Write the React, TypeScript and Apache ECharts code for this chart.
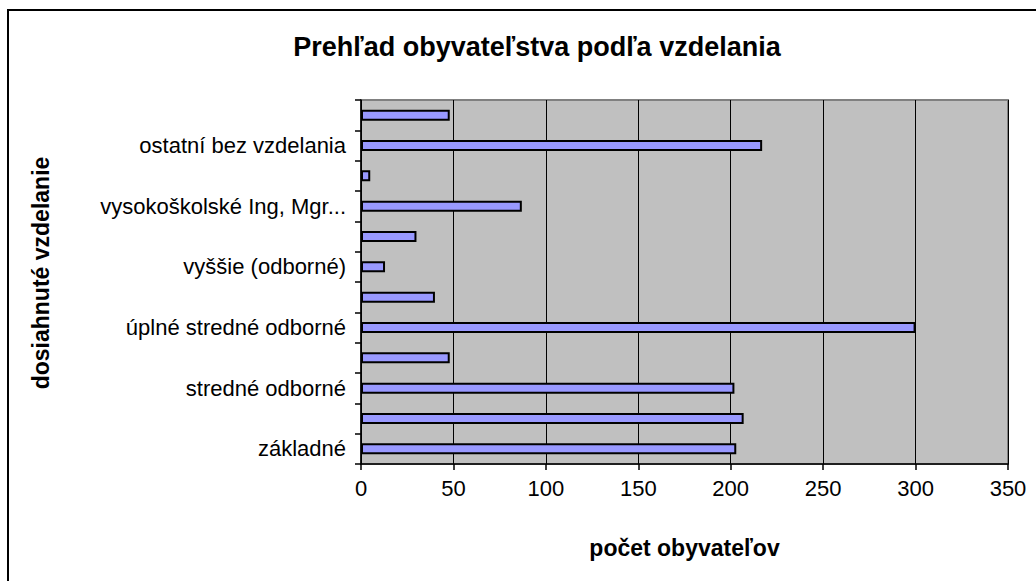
import React, { useEffect, useRef } from "react";
import * as echarts from "echarts";

const categories = [
  "základné",
  "vyučený",
  "stredné odborné",
  "úplné stredné všeobecné",
  "úplné stredné odborné",
  "úplné stredné (vyučený s maturitou)",
  "vyššie (odborné)",
  "vysokoškolské Bc.",
  "vysokoškolské Ing, Mgr...",
  "vysokoškolské PhD.",
  "ostatní bez vzdelania",
  "nezistené",
];
const values = [203, 207, 202, 48, 300, 40, 13, 30, 87, 5, 217, 48];
const xTicks = { min: 0, max: 350, interval: 50 };

const titleText = "Prehľad obyvateľstva podľa vzdelania";
const xName = "počet obyvateľov";
const yName = "dosiahnuté vzdelanie";

export default function App() {
  const ref = useRef<HTMLDivElement>(null);
  useEffect(() => {
    if (!ref.current) return;
    const chart = echarts.init(ref.current, undefined, { renderer: "svg" });
    const font = "'Liberation Sans', Arial, sans-serif";
    chart.setOption({
      animation: false,
      backgroundColor: "#fff",
      textStyle: { fontFamily: font },
      title: {
        text: titleText,
        left: 532,
        top: 28,
        textAlign: "center",
        textStyle: { fontFamily: font, fontSize: 27, fontWeight: "bold", color: "#000" },
      },
      grid: {
        left: 361,
        top: 100,
        right: 28,
        bottom: 117,
        show: true,
        backgroundColor: "#C0C0C0",
        borderColor: "#808080",
        borderWidth: 2,
        containLabel: false,
      },
      xAxis: {
        type: "value",
        min: xTicks.min,
        max: xTicks.max,
        interval: xTicks.interval,
        name: xName,
        nameLocation: "middle",
        nameGap: 72,
        nameTextStyle: { fontFamily: font, fontSize: 23, fontWeight: "bold", color: "#000" },
        axisLine: { show: true, lineStyle: { color: "#000", width: 1.5 } },
        axisTick: { show: true, length: 6, lineStyle: { color: "#000", width: 1.5 } },
        axisLabel: { fontFamily: font, fontSize: 22, color: "#000", margin: 13 },
        splitLine: { show: true, lineStyle: { color: "#000", width: 1 } },
      },
      yAxis: {
        type: "category",
        data: categories,
        boundaryGap: true,
        axisLine: { show: true, lineStyle: { color: "#000", width: 1.5 } },
        axisTick: { show: true, interval: 0, length: 6, lineStyle: { color: "#000", width: 1.5 } },
        axisLabel: { interval: 1, fontFamily: font, fontSize: 22, color: "#000", margin: 15 },
        splitLine: { show: false },
      },
      series: [
        {
          type: "bar",
          data: values,
          barWidth: 11,
          itemStyle: { color: "#9999FF", borderColor: "#000", borderWidth: 2 },
        },
      ],
      graphic: [
        { type: "rect", shape: { x: 7, y: 9, width: 1029, height: 2 }, style: { fill: "#000" }, silent: true },
        { type: "rect", shape: { x: 7, y: 9, width: 2, height: 572 }, style: { fill: "#000" }, silent: true },
        {
          type: "text",
          x: 41,
          y: 273,
          rotation: Math.PI / 2,
          style: {
            text: yName,
            fontFamily: font,
            fontSize: 23,
            fontWeight: "bold",
            fill: "#000",
            align: "center",
            verticalAlign: "middle",
          },
        },
      ],
    });
    return () => chart.dispose();
  }, []);
  return (
    <div
      ref={ref}
      style={{ position: "absolute", left: 0, top: 0, width: 1036, height: 581 }}
    />
  );
}
